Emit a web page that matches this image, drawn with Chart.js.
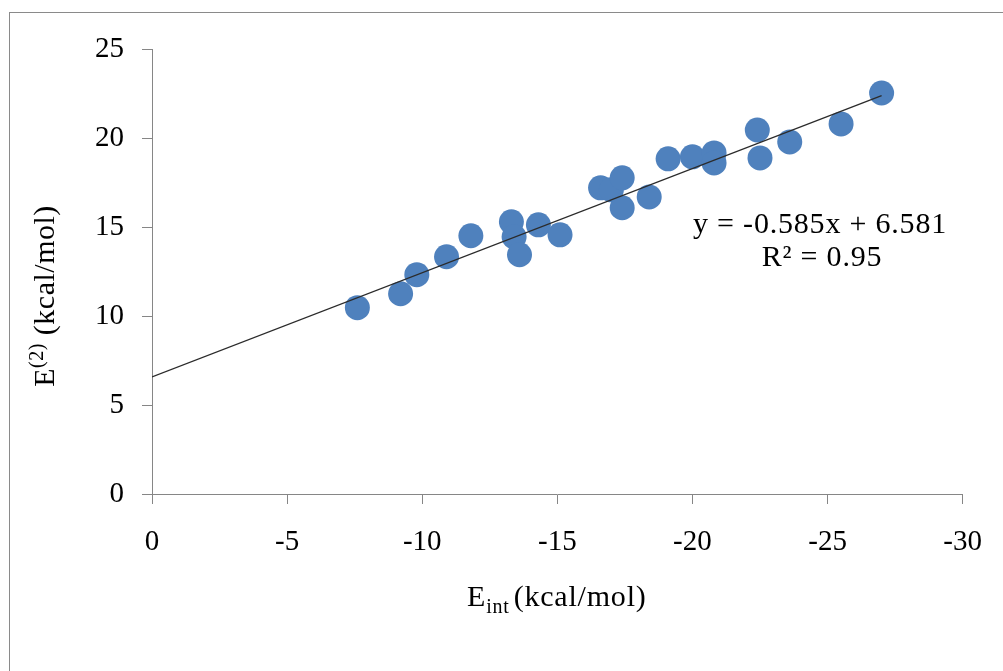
<!DOCTYPE html>
<html>
<head>
<meta charset="utf-8">
<script src="https://cdn.jsdelivr.net/npm/chart.js@4.4.1/dist/chart.umd.min.js"></script>
<style>
  html, body { margin: 0; padding: 0; background: #fff; overflow: hidden; }
  #wrap { position: relative; width: 1003px; height: 671px; }
  #frame { position: absolute; left: 9px; top: 12px; width: 1100px; height: 800px;
           border-left: 1.5px solid #8a8a8a; border-top: 1.5px solid #8a8a8a; pointer-events: none; }
  canvas { position: absolute; left: 0; top: 0; }
</style>
</head>
<body>
<div id="wrap">
  <canvas id="chart" width="1003" height="671"></canvas>
  <div id="frame"></div>
</div>
<script>
// --- data ---
const xTicks = [0, -5, -10, -15, -20, -25, -30];
const yTicks = [0, 5, 10, 15, 20, 25];
const eInt = [-7.6, -9.2, -9.8, -10.9, -11.8, -13.3, -13.4, -13.6, -14.3, -15.1, -16.6, -17.0,
              -17.4, -17.4, -18.4, -19.1, -20.0, -20.8, -20.8, -22.4, -22.5, -23.6, -25.5, -27.0];
const e2 = [10.47, 11.25, 12.32, 13.33, 14.51, 15.29, 14.45, 13.44, 15.12, 14.56, 17.2, 17.09,
            17.76, 16.08, 16.69, 18.83, 18.94, 19.16, 18.6, 20.45, 18.88, 19.78, 20.79, 22.53];
// trendline as printed on the chart
const fitSlope = -0.585;
const fitIntercept = 6.581;
const fitRange = [0, -27];

const SERIF = "'Liberation Serif', 'Times New Roman', serif";
const AXIS_GREY = "#868686";
const MARKER = "#4F81BD";

const points = eInt.map((x, i) => ({ x: x, y: e2[i] }));
const fitLine = fitRange.map((x) => ({ x: x, y: fitSlope * x + fitIntercept }));

// titles with sub/superscripts and the trendline label
const textPlugin = {
  id: "texts",
  afterDraw(chart) {
    const ctx = chart.ctx;
    ctx.save();
    ctx.fillStyle = "#000";
    ctx.textBaseline = "alphabetic";
    ctx.textAlign = "left";
    ctx.letterSpacing = "0.8px";

    // x title: E_int (kcal/mol)
    let x = 467;
    const base = 606;
    ctx.font = "30px " + SERIF;
    ctx.fillText("E", x, base);
    x += ctx.measureText("E").width;
    ctx.font = "20px " + SERIF;
    ctx.fillText("int", x, base + 7);
    x += ctx.measureText("int").width + 4;
    ctx.font = "30px " + SERIF;
    ctx.fillText("(kcal/mol)", x, base);

    // y title: E^(2) (kcal/mol), rotated
    ctx.save();
    ctx.letterSpacing = "0.5px";
    ctx.translate(54, 296);
    ctx.rotate(-Math.PI / 2);
    ctx.font = "30px " + SERIF;
    const w1 = ctx.measureText("E").width;
    ctx.font = "20px " + SERIF;
    const w2 = ctx.measureText("(2)").width;
    ctx.font = "30px " + SERIF;
    const w3 = ctx.measureText(" (kcal/mol)").width;
    let yx = -(w1 + w2 + w3) / 2;
    ctx.fillText("E", yx, 0);
    yx += w1;
    ctx.font = "20px " + SERIF;
    ctx.fillText("(2)", yx, -11);
    yx += w2;
    ctx.font = "30px " + SERIF;
    ctx.fillText(" (kcal/mol)", yx, 0);
    ctx.restore();

    // equation label
    ctx.textAlign = "center";
    ctx.font = "30px " + SERIF;
    ctx.fillText("y = -0.585x + 6.581", 820, 233);
    ctx.fillText("R\u00B2 = 0.95", 822, 266);
    ctx.restore();
  },
};

new Chart(document.getElementById("chart").getContext("2d"), {
  type: "scatter",
  data: {
    datasets: [
      {
        type: "line",
        data: fitLine,
        borderColor: "#2b2b2b",
        borderWidth: 1.3,
        pointRadius: 0,
        fill: false,
        order: 0,
      },
      {
        data: points,
        backgroundColor: MARKER,
        borderWidth: 0,
        pointRadius: 12.5,
        pointHoverRadius: 12.5,
        order: 1,
      },
    ],
  },
  options: {
    responsive: false,
    animation: false,
    layout: { padding: { top: 49, right: 40, left: 0, bottom: 0 } },
    plugins: { legend: { display: false }, tooltip: { enabled: false } },
    scales: {
      x: {
        type: "linear",
        min: -30,
        max: 0,
        reverse: true,
        afterBuildTicks: (s) => { s.ticks = xTicks.map((v) => ({ value: v })); },
        afterFit: (s) => { s.height = 177; },
        ticks: { color: "#000", font: { family: SERIF, size: 29 }, padding: 21, maxRotation: 0 },
        grid: { drawOnChartArea: false, drawTicks: true, tickLength: 10, color: AXIS_GREY },
        border: { color: AXIS_GREY, width: 1 },
      },
      y: {
        min: 0,
        max: 25,
        afterBuildTicks: (s) => { s.ticks = yTicks.map((v) => ({ value: v })); },
        afterFit: (s) => { s.width = 152; },
        ticks: { color: "#000", font: { family: SERIF, size: 29 }, padding: 18 },
        grid: { drawOnChartArea: false, drawTicks: true, tickLength: 10, color: AXIS_GREY },
        border: { color: AXIS_GREY, width: 1 },
      },
    },
  },
  plugins: [textPlugin],
});
</script>
</body>
</html>
